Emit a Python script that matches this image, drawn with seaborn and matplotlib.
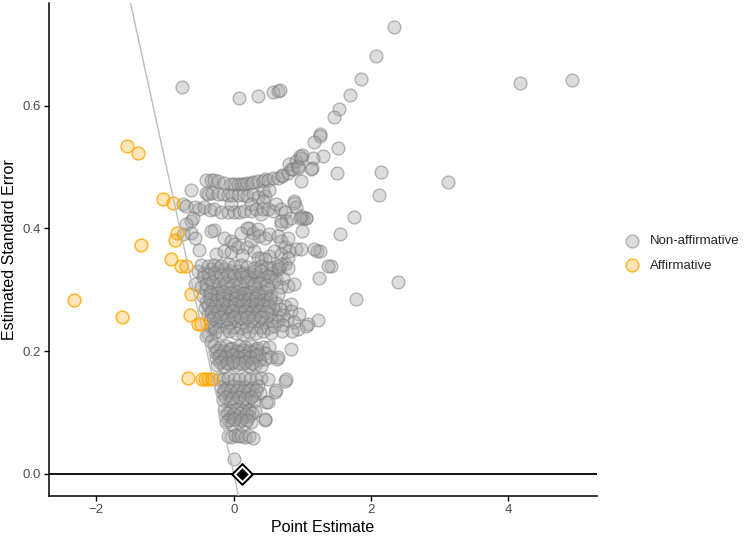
import numpy as np
import pandas as pd
import matplotlib
matplotlib.use('Agg')
import matplotlib.pyplot as plt
import seaborn as sns

# point estimates and standard errors, (estimate, se)
# sparse points in the upper part and to the right
top_pts = [
    (2.33, 0.728), (2.07, 0.681), (1.86, 0.644), (1.69, 0.617), (1.54, 0.594), (1.46, 0.581),
    (1.26, 0.553), (1.25, 0.551), (1.17, 0.541), (1.52, 0.531), (1.30, 0.517), (1.16, 0.514),
    (1.14, 0.499), (1.13, 0.497), (1.51, 0.490), (2.15, 0.492), (3.12, 0.476), (2.11, 0.454),
    (1.75, 0.419), (1.55, 0.390), (1.06, 0.417), (1.01, 0.417), (1.00, 0.396), (1.21, 0.363),
    (1.25, 0.363), (1.42, 0.339), (1.24, 0.319), (2.39, 0.312), (1.78, 0.285), (4.93, 0.641),
    (4.17, 0.636), (-0.76, 0.630), (0.07, 0.612), (0.35, 0.616), (0.57, 0.622), (0.64, 0.624),
    (0.68, 0.626), (1.23, 0.250), (1.17, 0.366), (1.37, 0.339),
]

# the curved arc and the row under it (se ~0.44-0.52)
arc_pts = [
    (-0.40, 0.478), (-0.33, 0.479), (-0.28, 0.478), (-0.23, 0.477), (-0.14, 0.474), (-0.04, 0.472),
    (0.01, 0.472), (0.06, 0.472), (0.11, 0.473), (0.15, 0.472), (0.20, 0.474), (0.25, 0.474),
    (0.28, 0.475), (0.35, 0.477), (0.42, 0.477), (0.45, 0.480), (0.50, 0.478), (0.57, 0.482),
    (0.64, 0.482), (0.70, 0.485), (0.71, 0.487), (0.79, 0.490), (0.81, 0.504), (0.83, 0.496),
    (0.86, 0.496), (0.91, 0.509), (0.93, 0.501), (0.93, 0.499), (0.96, 0.518), (0.98, 0.515),
    (1.00, 0.520), (0.98, 0.477),
    (-0.62, 0.463), (-0.40, 0.458), (-0.38, 0.456), (-0.31, 0.458), (-0.23, 0.456), (-0.16, 0.456),
    (-0.09, 0.455), (-0.02, 0.455), (0.06, 0.455), (0.13, 0.455), (0.20, 0.452), (0.28, 0.456),
    (0.35, 0.451), (0.42, 0.461), (0.45, 0.453), (0.52, 0.463), (0.88, 0.445), (0.91, 0.434),
    (1.05, 0.417), (0.98, 0.420),
]

# row around se 0.43
row_pts = [
    (-0.74, 0.439), (-0.69, 0.436), (-0.57, 0.434), (-0.50, 0.432), (-0.43, 0.434), (-0.35, 0.430),
    (-0.28, 0.431), (-0.19, 0.427), (-0.09, 0.426), (0.01, 0.426), (0.08, 0.426), (0.15, 0.428),
    (0.25, 0.428), (0.25, 0.439), (0.33, 0.431), (0.40, 0.423), (0.42, 0.431), (0.42, 0.445),
    (0.50, 0.431), (0.57, 0.428), (0.62, 0.439), (0.69, 0.431), (0.74, 0.426), (0.69, 0.412),
    (0.76, 0.412), (0.83, 0.417), (0.88, 0.442), (-0.04, 0.439), (-0.62, 0.412), (-0.60, 0.417),
    (-0.69, 0.407), (0.96, 0.417),
]

# middle region (se ~0.34-0.40)
mid_pts = [
    (-0.74, 0.390), (-0.62, 0.393), (-0.57, 0.385), (-0.28, 0.397), (0.23, 0.401), (-0.33, 0.395),
    (-0.14, 0.385), (-0.04, 0.379), (0.01, 0.374), (0.06, 0.369), (0.20, 0.401), (0.28, 0.393),
    (0.35, 0.399), (0.37, 0.388), (0.45, 0.385), (0.52, 0.390), (0.64, 0.388), (0.69, 0.379),
    (0.74, 0.369), (0.81, 0.363), (0.79, 0.385), (0.91, 0.366), (0.98, 0.366), (-0.26, 0.358),
    (-0.14, 0.363), (-0.04, 0.361), (0.20, 0.369), (0.30, 0.363), (0.40, 0.352), (0.52, 0.355),
    (0.59, 0.363), (0.69, 0.358), (0.79, 0.352), (0.74, 0.342), (0.66, 0.336), (0.35, 0.352),
    (0.45, 0.350), (0.54, 0.336), (0.64, 0.339), (0.10, 0.392), (0.12, 0.357), (0.25, 0.380),
    (-0.50, 0.365), (0.69, 0.407),
]

# dense core (se ~0.22-0.34)
dense_pts = [
    (-0.52, 0.331), (-0.43, 0.328), (-0.33, 0.334), (-0.23, 0.336), (-0.14, 0.334), (-0.04, 0.331),
    (0.06, 0.331), (0.15, 0.328), (0.25, 0.325), (0.35, 0.323), (0.45, 0.325), (0.54, 0.328),
    (0.64, 0.334), (0.69, 0.342), (0.79, 0.336),
    (-0.47, 0.340), (-0.38, 0.338), (-0.28, 0.341), (-0.18, 0.339), (-0.09, 0.342), (0.01, 0.338),
    (0.10, 0.340), (0.20, 0.337), (0.30, 0.335), (0.40, 0.338), (0.49, 0.336),
    (-0.45, 0.320), (-0.36, 0.318), (-0.26, 0.321), (-0.16, 0.319), (-0.06, 0.322), (0.04, 0.318),
    (0.14, 0.320), (0.24, 0.317), (0.33, 0.321), (0.43, 0.318), (0.53, 0.320), (0.62, 0.317),
    (0.72, 0.319),
    (-0.57, 0.309), (-0.48, 0.304), (0.59, 0.315), (0.69, 0.304), (0.79, 0.306), (0.88, 0.309),
    (-0.40, 0.300), (-0.30, 0.302), (-0.20, 0.299), (-0.10, 0.303), (0.00, 0.300), (0.10, 0.301),
    (0.20, 0.298), (0.30, 0.302), (0.40, 0.299), (0.50, 0.301),
    (-0.44, 0.290), (-0.35, 0.291), (-0.25, 0.288), (-0.15, 0.292), (-0.05, 0.289), (0.05, 0.291),
    (0.15, 0.288), (0.25, 0.290), (0.35, 0.292), (0.45, 0.289), (0.55, 0.290), (0.64, 0.293),
    (-0.40, 0.280), (-0.30, 0.279), (-0.20, 0.281), (-0.12, 0.278), (-0.02, 0.280), (0.08, 0.282),
    (0.18, 0.279), (0.28, 0.281), (0.38, 0.278), (0.48, 0.280), (0.62, 0.279), (0.74, 0.274),
    (0.83, 0.277),
    (-0.42, 0.270), (-0.32, 0.268), (-0.22, 0.271), (-0.12, 0.269), (-0.03, 0.272), (0.07, 0.270),
    (0.17, 0.268), (0.27, 0.271), (0.37, 0.269), (0.47, 0.272), (0.57, 0.270), (0.68, 0.268),
    (0.83, 0.266), (0.95, 0.261),
    (-0.38, 0.260), (-0.28, 0.259), (-0.18, 0.261), (-0.08, 0.258), (0.02, 0.260), (0.12, 0.262),
    (0.22, 0.259), (0.32, 0.261), (0.42, 0.258), (0.52, 0.260), (0.64, 0.255), (0.72, 0.259),
    (-0.35, 0.250), (-0.25, 0.249), (-0.15, 0.251), (-0.05, 0.248), (0.05, 0.250), (0.15, 0.252),
    (0.25, 0.249), (0.35, 0.251), (0.45, 0.248), (0.55, 0.250), (0.65, 0.249), (0.78, 0.251),
    (0.88, 0.247), (1.08, 0.244), (0.93, 0.236), (1.05, 0.241),
    (-0.33, 0.240), (-0.28, 0.238), (-0.20, 0.241), (-0.10, 0.239), (0.00, 0.240), (0.10, 0.238),
    (0.20, 0.241), (0.30, 0.239), (0.40, 0.240), (0.50, 0.238), (0.58, 0.241), (0.72, 0.243),
    (-0.38, 0.228), (-0.27, 0.231), (-0.17, 0.229), (-0.07, 0.232), (0.03, 0.230), (0.13, 0.228),
    (0.23, 0.231), (0.33, 0.229), (0.43, 0.232), (0.55, 0.230), (0.70, 0.232), (0.85, 0.233),
]

# more overlapping studies inside the core
core_extra = [
    (-0.38, 0.325), (-0.28, 0.327), (-0.18, 0.324), (-0.09, 0.326), (0.01, 0.323), (0.11, 0.325),
    (0.20, 0.322), (0.30, 0.330), (0.40, 0.331), (0.50, 0.322),
    (-0.40, 0.310), (-0.31, 0.312), (-0.21, 0.309), (-0.11, 0.311), (-0.01, 0.308), (0.09, 0.310),
    (0.19, 0.312), (0.29, 0.309), (0.38, 0.311), (0.48, 0.308),
    (-0.35, 0.296), (-0.25, 0.295), (-0.15, 0.297), (-0.05, 0.294), (0.05, 0.296), (0.15, 0.294),
    (0.25, 0.297), (0.35, 0.295), (0.45, 0.296),
    (-0.35, 0.285), (-0.25, 0.284), (-0.16, 0.286), (-0.07, 0.284), (0.03, 0.286), (0.13, 0.284),
    (0.23, 0.285), (0.33, 0.286), (0.43, 0.284), (0.53, 0.285),
    (-0.37, 0.275), (-0.27, 0.274), (-0.17, 0.276), (-0.08, 0.274), (0.02, 0.276), (0.12, 0.275),
    (0.22, 0.274), (0.32, 0.276), (0.42, 0.275), (0.52, 0.274),
    (-0.33, 0.264), (-0.23, 0.265), (-0.13, 0.263), (-0.03, 0.265), (0.07, 0.264), (0.17, 0.266),
    (0.27, 0.264), (0.37, 0.265), (0.47, 0.263),
    (-0.30, 0.254), (-0.20, 0.255), (-0.10, 0.253), (0.00, 0.255), (0.10, 0.254), (0.20, 0.256),
    (0.30, 0.254), (0.40, 0.255),
]

# lower bands (se < 0.23)
low_pts = [
    (-0.40, 0.225), (-0.33, 0.217),
    (-0.29, 0.208), (-0.20, 0.206), (-0.11, 0.209), (-0.02, 0.205), (0.07, 0.208), (0.16, 0.206),
    (0.25, 0.209), (0.34, 0.205), (0.43, 0.207), (0.52, 0.206), (0.83, 0.204),
    (-0.27, 0.198), (-0.18, 0.196), (-0.09, 0.199), (0.00, 0.195), (0.09, 0.198), (0.18, 0.196),
    (0.27, 0.199), (0.36, 0.195), (0.45, 0.197),
    (-0.26, 0.188), (-0.17, 0.186), (-0.08, 0.189), (0.01, 0.185), (0.10, 0.188), (0.19, 0.186),
    (0.28, 0.189), (0.37, 0.185), (0.46, 0.187), (0.54, 0.190), (0.63, 0.187), (0.64, 0.190),
    (-0.24, 0.178), (-0.14, 0.176), (-0.05, 0.179), (0.04, 0.177), (0.13, 0.179), (0.22, 0.176),
    (0.31, 0.178), (0.40, 0.176),
    (-0.21, 0.155), (-0.15, 0.154), (-0.08, 0.156), (0.00, 0.155), (0.08, 0.154), (0.16, 0.156),
    (0.24, 0.155), (0.32, 0.154), (0.40, 0.156), (0.50, 0.155), (0.74, 0.152), (0.76, 0.155),
    (-0.18, 0.142), (-0.10, 0.140), (-0.01, 0.143), (0.08, 0.141), (0.17, 0.142), (0.26, 0.140),
    (0.35, 0.143),
    (-0.16, 0.131), (-0.07, 0.129), (0.02, 0.132), (0.11, 0.130), (0.20, 0.131), (0.29, 0.129),
    (0.38, 0.132), (0.60, 0.133), (0.62, 0.136),
    (-0.15, 0.120), (-0.06, 0.118), (0.03, 0.121), (0.12, 0.119), (0.21, 0.120), (0.30, 0.118),
    (0.47, 0.117), (0.50, 0.117),
    (-0.14, 0.104), (-0.05, 0.102), (0.04, 0.105), (0.13, 0.103), (0.22, 0.104), (0.31, 0.102),
    (-0.13, 0.094), (-0.04, 0.092), (0.05, 0.095), (0.14, 0.093), (0.23, 0.094), (0.45, 0.088),
    (0.45, 0.090),
    (-0.11, 0.084), (-0.02, 0.082), (0.07, 0.085), (0.16, 0.083), (0.25, 0.084),
    (-0.09, 0.062), (-0.04, 0.060), (0.02, 0.063), (0.06, 0.061), (0.11, 0.062), (0.16, 0.060),
    (0.22, 0.061), (0.28, 0.058),
    (0.01, 0.025),
]

low_extra = [
    (-0.25, 0.202), (-0.15, 0.201), (-0.05, 0.203), (0.05, 0.201), (0.14, 0.202), (0.23, 0.201),
    (0.32, 0.202),
    (-0.22, 0.192), (-0.12, 0.191), (-0.03, 0.193), (0.06, 0.191), (0.15, 0.192), (0.24, 0.191),
    (0.33, 0.193),
    (-0.20, 0.182), (-0.10, 0.181), (-0.01, 0.183), (0.08, 0.181), (0.17, 0.182), (0.26, 0.181),
    (-0.14, 0.136), (-0.05, 0.135), (0.05, 0.137), (0.14, 0.135), (0.23, 0.136), (0.32, 0.137),
    (-0.12, 0.125), (-0.02, 0.124), (0.07, 0.126), (0.16, 0.124), (0.25, 0.125),
    (-0.10, 0.099), (0.00, 0.098), (0.09, 0.100), (0.18, 0.098), (0.27, 0.099),
    (-0.08, 0.088), (0.01, 0.089), (0.10, 0.087), (0.19, 0.088),
]

# affirmative studies (left of the significance line)
aff_pts = [
    (-2.33, 0.284), (-1.62, 0.256), (-1.55, 0.534), (-1.40, 0.523), (-1.35, 0.373), (-1.03, 0.448),
    (-0.88, 0.442), (-0.83, 0.392), (-0.85, 0.381), (-0.91, 0.350), (-0.77, 0.338), (-0.69, 0.338),
    (-0.62, 0.293), (-0.63, 0.259), (-0.52, 0.244), (-0.48, 0.244), (-0.66, 0.156), (-0.46, 0.155),
    (-0.42, 0.155), (-0.37, 0.155), (-0.32, 0.155),
]

pooled_est = 0.116
z_crit = 1.96

non_pts = top_pts + arc_pts + row_pts + mid_pts + dense_pts + core_extra + low_pts + low_extra
non_df = pd.DataFrame(non_pts, columns=['est', 'se'])
aff_df = pd.DataFrame(aff_pts, columns=['est', 'se'])

sns.set_theme(style='white')
plt.rcParams['font.family'] = ['Liberation Sans', 'DejaVu Sans']

fig = plt.figure(figsize=(7.49, 5.36), dpi=100)
ax = fig.add_axes([0.0654, 0.0746, 0.7316, 0.9198])

grey_fill = (0.63, 0.63, 0.63, 0.36)
grey_edge = (0.47, 0.47, 0.47, 0.50)
orange_fill = (1.00, 0.65, 0.00, 0.28)
orange_edge = (1.00, 0.65, 0.00, 0.85)

sns.scatterplot(data=non_df, x='est', y='se', s=85, linewidth=1.0,
                label='Non-affirmative', ax=ax, zorder=2)
sns.scatterplot(data=aff_df, x='est', y='se', s=85, linewidth=1.0,
                label='Affirmative', ax=ax, zorder=3)
ax.collections[0].set_facecolor(grey_fill)
ax.collections[0].set_edgecolor(grey_edge)
ax.collections[1].set_facecolor(orange_fill)
ax.collections[1].set_edgecolor(orange_edge)

# significance line and zero line
ax.axline((0, 0), slope=-1 / z_crit, color='#bdbdbd', lw=1.0, zorder=4)
ax.axhline(0, color='black', lw=1.3, zorder=4)

# pooled estimate diamond
ax.scatter([pooled_est], [0], marker='D', s=120, facecolor='black', edgecolor='black', lw=1, zorder=6)
ax.scatter([pooled_est], [0], marker='D', s=60, facecolor='black', edgecolor='white', lw=1.4, zorder=7)

ax.set_xlim(-2.69, 5.29)
ax.set_ylim(-0.036, 0.767)
ax.set_xticks([-2, 0, 2, 4])
ax.set_yticks([0.0, 0.2, 0.4, 0.6])
ax.set_yticklabels(['0.0', '0.2', '0.4', '0.6'])
ax.tick_params(axis='both', direction='out', length=3.5, width=1, color='black',
               labelcolor='#4d4d4d', labelsize=9.5, left=True, bottom=True, pad=2)
ax.set_xlabel('Point Estimate', fontsize=11.5, color='black', labelpad=3)
ax.set_ylabel('Estimated Standard Error', fontsize=11.5, color='black', labelpad=4)

sns.despine(ax=ax)
for side in ['left', 'bottom']:
    ax.spines[side].set_color('black')
    ax.spines[side].set_linewidth(1.1)

ax.legend(loc='center left', bbox_to_anchor=(1.03, 0.492), frameon=False, fontsize=9.5,
          handletextpad=0.35, labelspacing=0.95, borderaxespad=0)

fig.savefig('out.png', dpi=100)
